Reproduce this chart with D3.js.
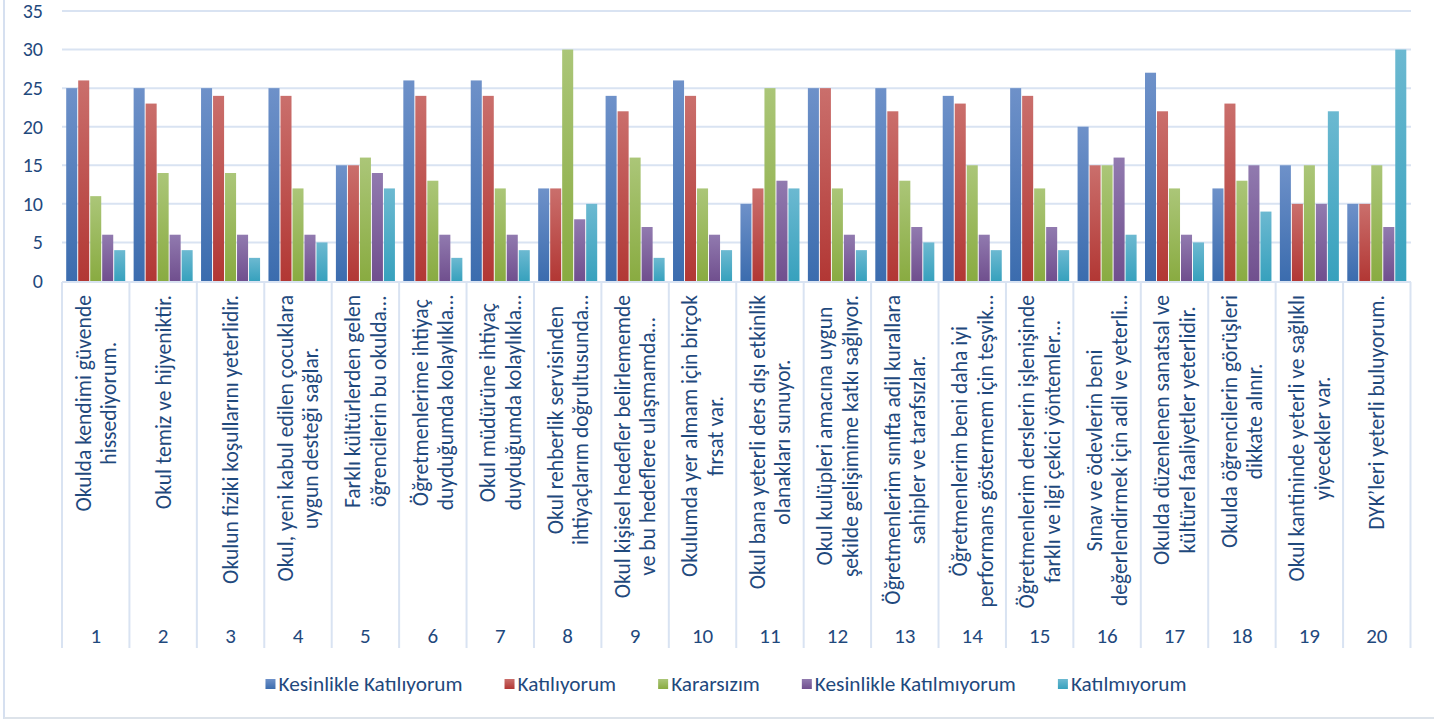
<!DOCTYPE html>
<html><head><meta charset="utf-8">
<script src="https://cdn.jsdelivr.net/npm/d3@7"></script>
<style>
html,body{margin:0;padding:0;background:#fff;}
svg{display:block;font-family:Carlito, Lato, sans-serif;}
</style></head>
<body>
<svg id="c" width="1434" height="720"></svg>
<script>
const groups = ["1","2","3","4","5","6","7","8","9","10","11","12","13","14","15","16","17","18","19","20"];
const labels = [
 ["Okulda kendimi  güvende","hissediyorum."],
 ["Okul temiz ve hijyeniktir."],
 ["Okulun fiziki koşullarını yeterlidir."],
 ["Okul, yeni kabul edilen çocuklara","uygun desteği sağlar."],
 ["Farklı kültürlerden gelen","öğrencilerin bu okulda…"],
 ["Öğretmenlerime ihtiyaç","duyduğumda kolaylıkla…"],
 ["Okul müdürüne ihtiyaç","duyduğumda kolaylıkla…"],
 ["Okul rehberlik servisinden","ihtiyaçlarım doğrultusunda…"],
 ["Okul kişisel hedefler belirlememde","ve bu hedeflere ulaşmamda…"],
 ["Okulumda yer almam için birçok","fırsat var."],
 ["Okul bana yeterli ders dışı etkinlik","olanakları sunuyor."],
 ["Okul kulüpleri amacına uygun","şekilde gelişimime katkı sağlıyor."],
 ["Öğretmenlerim sınıfta adil kurallara","sahipler ve tarafsızlar."],
 ["Öğretmenlerim beni daha iyi","performans göstermem için teşvik…"],
 ["Öğretmenlerim derslerin işlenişinde","farklı ve ilgi çekici yöntemler…"],
 ["Sınav ve ödevlerin beni","değerlendirmek için adil ve yeterli…"],
 ["Okulda düzenlenen sanatsal ve","kültürel faaliyetler yeterlidir."],
 ["Okulda öğrencilerin görüşleri","dikkate alınır."],
 ["Okul kantininde yeterli ve sağlıklı","yiyecekler var."],
 ["DYK’leri yeterli buluyorum."]
];
const seriesNames = ["Kesinlikle Katılıyorum","Katılıyorum","Kararsızım","Kesinlikle Katılmıyorum","Katılmıyorum"];
const kesinlikleKatiliyorum = [25,25,25,25,15,26,26,12,24,26,10,25,25,24,25,20,27,12,15,10];
const katiliyorum           = [26,23,24,24,15,24,24,12,22,24,12,25,22,23,24,15,22,23,10,10];
const kararsizim            = [11,14,14,12,16,13,12,30,16,12,25,12,13,15,12,15,12,13,15,15];
const kesinlikleKatilmiyorum= [6,6,6,6,14,6,6,8,7,6,13,6,7,6,7,16,6,15,10,7];
const katilmiyorum          = [4,4,3,5,12,3,4,10,3,4,12,4,5,4,4,6,5,9,22,30];
const yTicks = [0,5,10,15,20,25,30,35];

const seriesValues = [kesinlikleKatiliyorum,katiliyorum,kararsizim,kesinlikleKatilmiyorum,katilmiyorum];
const grads = [["#6e91c9","#3b6cae"],["#ca6f6c","#b23734"],["#abc678","#89ab41"],["#917aaf","#704f8e"],["#6cb9d1","#37a1bd"]];
const textColor = "#1F497D";
const gridColor = "#d9e3f2";

const svg = d3.select("#c");
const defs = svg.append("defs");
grads.forEach((g,i)=>{
  const lg = defs.append("linearGradient").attr("id","g"+i).attr("x1",0).attr("y1",0).attr("x2",0).attr("y2",1);
  lg.append("stop").attr("offset","0%").attr("stop-color",g[0]);
  lg.append("stop").attr("offset","100%").attr("stop-color",g[1]);
});

// outer frame
svg.append("line").attr("x1",4).attr("x2",4).attr("y1",0).attr("y2",719).attr("stroke","#d6e0f0").attr("stroke-width",2);
svg.append("line").attr("x1",4).attr("x2",1434).attr("y1",718).attr("y2",718).attr("stroke","#dde3ea").attr("stroke-width",2);

const y = d3.scaleLinear().domain([0,35]).range([281,11]);
const x0 = d3.scaleBand().domain(groups).range([62,1410.5]).padding(0);
const x1 = d3.scaleBand().domain(seriesNames).range([0,x0.bandwidth()]).paddingInner(0.08).paddingOuter(0.35);

// gridlines
svg.append("g").selectAll("line").data(yTicks.filter(d=>d>0)).join("line")
  .attr("x1",62).attr("x2",1411).attr("y1",d=>y(d)).attr("y2",d=>y(d))
  .attr("stroke",gridColor).attr("stroke-width",2);

// y axis labels
const yAxis = d3.axisLeft(y).tickValues(yTicks).tickSize(0).tickPadding(0);
const ya = svg.append("g").attr("transform","translate(43,0)").call(yAxis);
ya.select(".domain").remove();
ya.selectAll("text").attr("fill",textColor).attr("font-size",20).attr("font-family","Carlito, Lato, sans-serif");

// bars
const rows = groups.map((g,gi)=>({g, vals: seriesValues.map((s,si)=>({s:seriesNames[si], si, v:s[gi]}))}));
svg.append("g").selectAll("g").data(rows).join("g")
  .attr("transform",d=>`translate(${x0(d.g)},0)`)
  .selectAll("rect").data(d=>d.vals).join("rect")
  .attr("x",d=>x1(d.s)).attr("width",x1.bandwidth())
  .attr("y",d=>y(d.v)).attr("height",d=>y(0)-y(d.v))
  .attr("fill",d=>`url(#g${d.si})`);

// category axis
svg.append("line").attr("x1",62).attr("x2",1411).attr("y1",282).attr("y2",282).attr("stroke",gridColor).attr("stroke-width",2);
const seps = groups.map(g=>x0(g)).concat([x0(groups[groups.length-1])+x0.bandwidth()]);
svg.append("g").selectAll("line").data(seps).join("line")
  .attr("x1",d=>d).attr("x2",d=>d).attr("y1",282).attr("y2",648)
  .attr("stroke",gridColor).attr("stroke-width",2);

// rotated labels
const lineH = 25.5, topY = 295, labelSize = 21.6;
const lg = svg.append("g").attr("fill",textColor).attr("font-size",labelSize);
groups.forEach((g,i)=>{
  const cx = x0(g)+x0.bandwidth()/2;
  const grp = lg.append("g").attr("transform",`translate(${cx},${topY}) rotate(-90)`);
  const lines = labels[i];
  const n = lines.length;
  const ts = grp.selectAll("text").data(lines).join("text")
    .attr("text-anchor","middle")
    .attr("y",(d,j)=>(j-(n-1)/2)*lineH)
    .attr("dy","0.35em")
    .text(d=>d);
  let maxL = 0; ts.each(function(){maxL=Math.max(maxL,this.getComputedTextLength());});
  ts.attr("x",-maxL/2);
});

// group numbers
svg.append("g").selectAll("text").data(groups).join("text")
  .attr("x",d=>x0(d)+x0.bandwidth()/2).attr("y",636).attr("dy","0.35em")
  .attr("text-anchor","middle").attr("fill",textColor).attr("font-size",21).text(d=>d);

// legend
const leg = svg.append("g").attr("font-size",21.3).attr("fill",textColor);
const items = leg.selectAll("g").data(seriesNames).join("g");
items.append("rect").attr("width",10).attr("height",10).attr("y",-5).attr("fill",(d,i)=>`url(#g${i})`);
items.append("text").attr("x",13).attr("dy","0.35em").text(d=>d);
let widths = [];
items.each(function(){widths.push(this.querySelector("text").getComputedTextLength()+13);});
const gap = 42;
const total = d3.sum(widths)+gap*(widths.length-1);
let cur = 726 - total/2;
items.attr("transform",(d,i)=>{const t=`translate(${cur},684)`; cur+=widths[i]+gap; return t;});
</script>
</body></html>
